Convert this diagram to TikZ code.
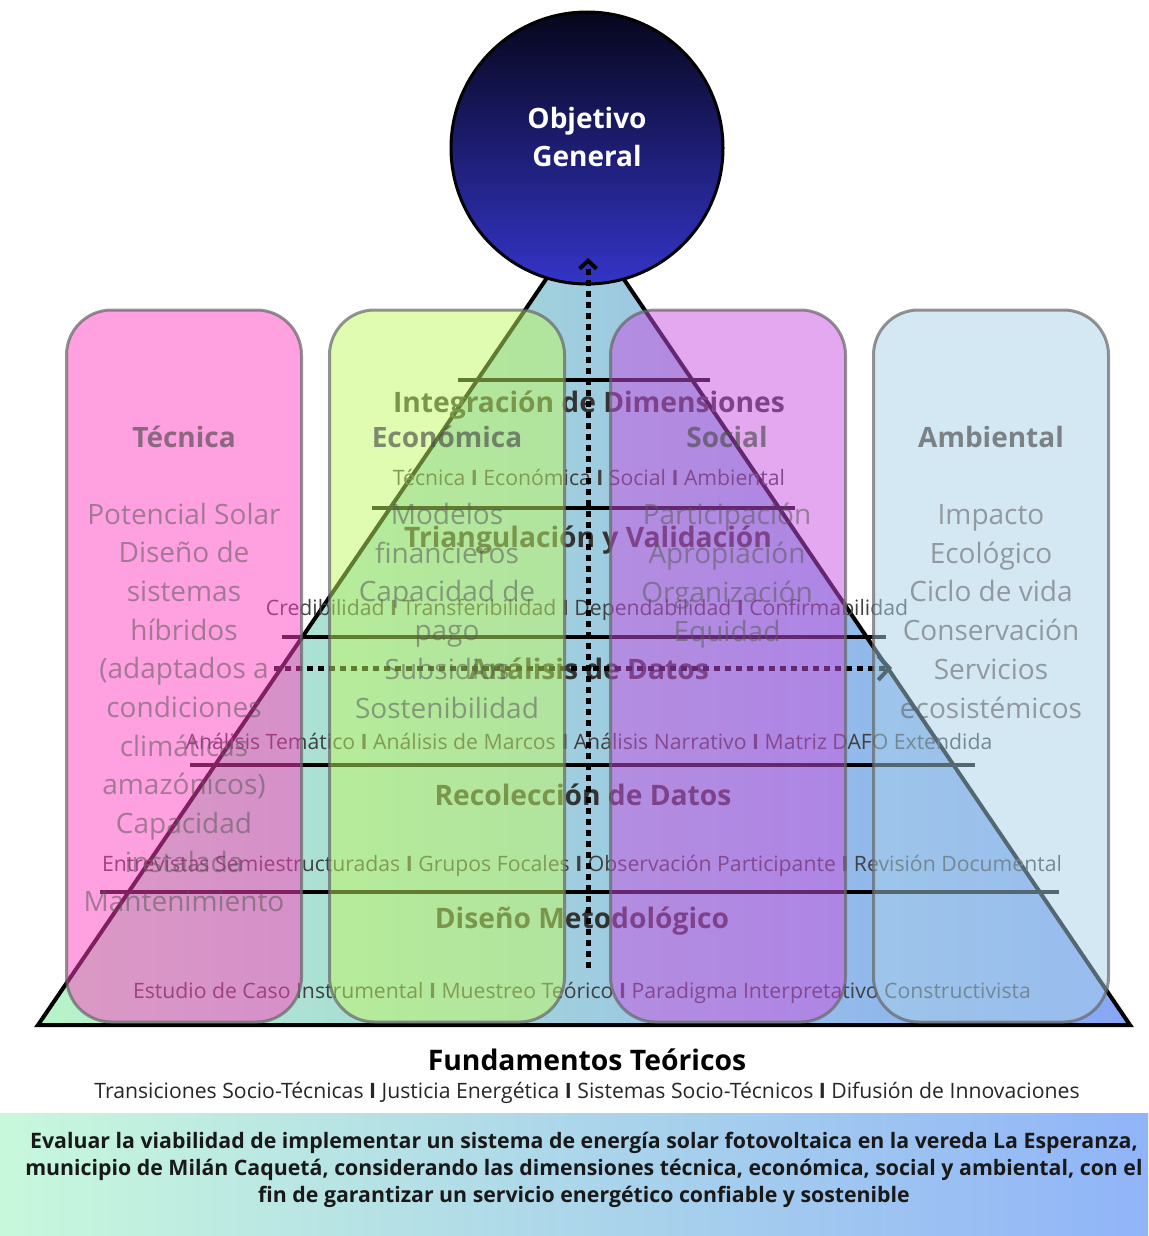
\documentclass[tikz,border=0pt]{standalone}
\usepackage{fontspec}
\setmainfont{Open Sans}
\usetikzlibrary{arrows.meta}

\definecolor{pinkcol}{HTML}{FF41C1}
\definecolor{greencol}{HTML}{C1F961}
\definecolor{lilaccol}{HTML}{C951E1}
\definecolor{skycol}{HTML}{A9D1E9}
\definecolor{pyrleft}{HTML}{B8F4C8}
\definecolor{pyrmid}{HTML}{A8D8EA}
\definecolor{pyrright}{HTML}{86A6F6}
\definecolor{navytop}{HTML}{06061C}
\definecolor{navybot}{HTML}{3434C8}
\definecolor{goalleft}{HTML}{C8F8DC}
\definecolor{goalright}{HTML}{90B4F8}

\newcommand{\bsep}{\ \textbf{I}\ }

\begin{document}
\begin{tikzpicture}[x=1pt, y=-1pt,
    column/.style={rectangle, rounded corners=45pt, minimum width=235pt, minimum height=712pt,
      draw=black!60, draw opacity=0.7, line width=3pt, fill opacity=0.5},
    colhead/.style={font=\fontsize{28}{38}\selectfont\bfseries, text=black!70, text opacity=0.65},
    colitems/.style={font=\fontsize{28}{38.7}\selectfont, text=black!65, text opacity=0.55,
      align=center, anchor=base},
    leveltitle/.style={font=\fontsize{28.2}{32}\selectfont\bfseries, text=black!80},
    levelsub/.style={font=\fontsize{21.2}{24}\selectfont, text=black!75},
    levelline/.style={line width=4pt},
    flow/.style={line width=5pt, dash pattern=on 6pt off 5pt},
    flowtip/.style={-{Straight Barb[length=11pt, width=24pt, line width=4pt]}},
    uptip/.style={-{Straight Barb[length=8pt, width=17pt, line width=4pt]}}]

    \useasboundingbox (0,0) rectangle (1148,1236);

    \coordinate (apex) at (585,222);
    \coordinate (bl) at (38,1025);
    \coordinate (br) at (1130,1025);

    \draw[line width=4pt, left color=pyrleft, middle color=pyrmid, right color=pyrright]
        (apex) -- (bl) -- (br) -- cycle;

    \foreach \y/\xa/\xb in {380/458/710, 508/372/795, 637/282/886, 765/190/975, 892/100/1059}
        \draw[levelline] (\xa,\y) -- (\xb,\y);

    \node[leveltitle] (integ) at (589,405) {Integración de Dimensiones};
    \node[levelsub] (integS) at (589,477) {Técnica\bsep Económica\bsep Social\bsep Ambiental};
    \node[leveltitle] (triang) at (588,540) {Triangulación y Validación};
    \node[levelsub] (triangS) at (587,610) {Credibilidad\bsep Transferibilidad\bsep Dependabilidad\bsep Confirmabilidad};
    \node[leveltitle] (analisis) at (589,669) {Análisis de Datos};
    \node[levelsub] (analisisS) at (589,741) {Análisis Temático\bsep Análisis de Marcos\bsep Análisis Narrativo\bsep Matriz DAFO Extendida};
    \node[leveltitle] (recol) at (583,795) {Recolección de Datos};
    \node[levelsub] (recolS) at (582,866) {Entrevistas Semiestructuradas\bsep Grupos Focales\bsep Observación Participante\bsep Revisión Documental};
    \node[leveltitle] (diseno) at (582,921) {Diseño Metodológico};
    \node[levelsub] (disenoS) at (582,993) {Estudio de Caso Instrumental\bsep Muestreo Teórico\bsep Paradigma Interpretativo Constructivista};

    \coordinate (hstart) at (274,668);
    \coordinate (hend) at (892,668);
    \draw[flow, flowtip] (hstart) -- (hend);

    \node[column, fill=pinkcol] (tec) at (184,666) {};
    \node[column, fill=greencol] (eco) at (447,666) {};
    \node[column, fill=lilaccol] (soc) at (728,666) {};
    \node[column, fill=skycol] (amb) at (991,666) {};

    \node[colhead] (tecH) at (184,437) {Técnica};
    \node[colhead] (ecoH) at (447,437) {Económica};
    \node[colhead] (socH) at (727,437) {Social};
    \node[colhead] (ambH) at (991,437) {Ambiental};

    \node[colitems] (tecL) at (184,911) {Potencial Solar\\Diseño de\\sistemas\\híbridos\\(adaptados a\\condiciones\\climáticas\\amazónicos)\\Capacidad\\instalada\\Mantenimiento};
    \node[colitems] (ecoL) at (447,718) {Modelos\\financieros\\Capacidad de\\pago\\Subsidios\\Sostenibilidad};
    \node[colitems] (socL) at (727,641) {Participación\\Apropiación\\Organización\\Equidad};
    \node[colitems] (ambL) at (991,718) {Impacto\\Ecológico\\Ciclo de vida\\Conservación\\Servicios\\ecosistémicos};

    \node[circle, draw, line width=3pt, minimum size=272pt, inner sep=0pt,
        top color=navytop, bottom color=navybot] (obj) at (587,148) {};
    \node[font=\fontsize{28}{38}\selectfont\bfseries, text=white, align=center] (objT) at (587,137) {Objetivo\\General};

    \coordinate (vstart) at (588,968);
    \coordinate (vend) at (588,258);
    \draw[flow, uptip] (vstart) -- (vend);

    \node[font=\fontsize{28.3}{32}\selectfont\bfseries] (fund) at (587,1060) {Fundamentos Teóricos};
    \node[levelsub, text=black!85] (fundS) at (587,1093) {Transiciones Socio-Técnicas\bsep Justicia Energética\bsep Sistemas Socio-Técnicos\bsep Difusión de Innovaciones};

    \node[rectangle, minimum width=1148pt, minimum height=123pt, inner sep=0pt,
        left color=goalleft, right color=goalright] (goal) at (574,1174.5) {};
    \node[font=\fontsize{21.3}{27}\selectfont\bfseries, text=black!90, align=center] (goalT) at (584,1170)
        {Evaluar la viabilidad de implementar un sistema de energía solar fotovoltaica en la vereda La Esperanza,\\
         municipio de Milán Caquetá, considerando las dimensiones técnica, económica, social y ambiental, con el\\
         fin de garantizar un servicio energético confiable y sostenible};
\end{tikzpicture}
\end{document}
